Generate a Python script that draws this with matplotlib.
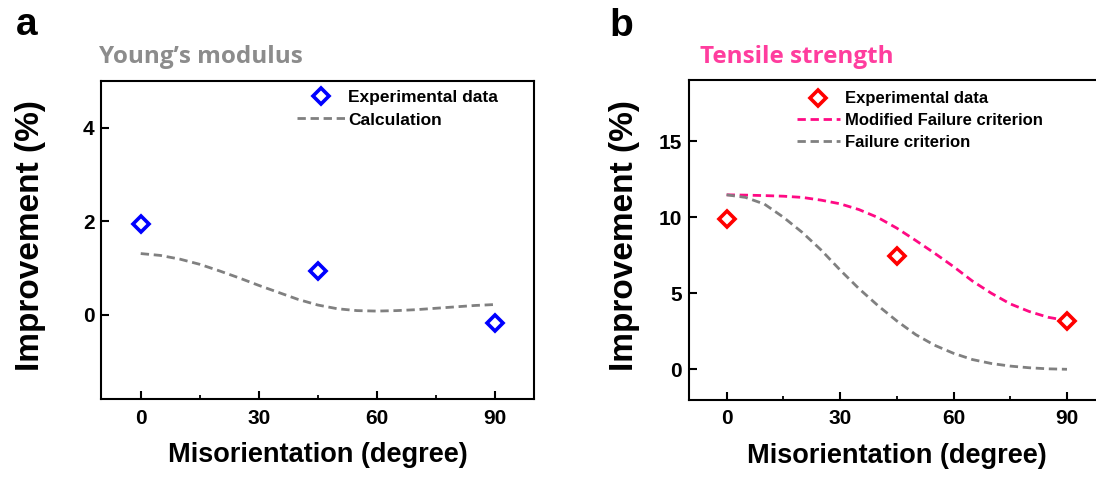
import matplotlib
matplotlib.use("Agg")
import matplotlib.pyplot as plt

# ---- data ----
exp_angle = [0, 45, 90]
young_exp = [1.95, 0.93, -0.18]
tensile_exp = [9.85, 7.43, 3.2]

calc_angle = [0, 5, 10, 15, 20, 25, 30, 35, 40, 45, 50, 55, 60, 65, 70, 75, 80, 85, 90]
young_calc = [1.31, 1.27, 1.19, 1.08, 0.94, 0.79, 0.63, 0.48, 0.33, 0.21, 0.13, 0.09, 0.08,
              0.09, 0.11, 0.14, 0.17, 0.20, 0.22]
modified_fc = [11.47, 11.45, 11.42, 11.38, 11.30, 11.12, 10.88, 10.50, 9.98, 9.28, 8.47, 7.63,
               6.75, 5.80, 5.00, 4.30, 3.80, 3.42, 3.20]
failure_fc = [11.47, 11.30, 10.86, 10.00, 9.00, 7.84, 6.53, 5.30, 4.19, 3.18, 2.28, 1.58,
              1.05, 0.64, 0.38, 0.21, 0.10, 0.03, 0.0]

xticks = [0, 30, 60, 90]
xminor = [15, 45, 75]

BLUE, RED, PINK, GRAY = "#0000ff", "#ff0000", "#ff0a84", "#808080"
TITLE_GRAY, TITLE_PINK = "#8c8c8c", "#ff3d9e"
plt.rcParams.update({"font.family": ["Liberation Sans", "DejaVu Sans"], "font.weight": "bold",
                     "axes.linewidth": 1.5})

fig = plt.figure(figsize=(10.96, 4.8), dpi=100)
W, H = 1096.0, 480.0


def px_axes(l, t, r, b):
    return fig.add_axes([l / W, 1 - b / H, (r - l) / W, (b - t) / H])


def style(ax, ylim, yticks):
    ax.set_xlim(-10, 100)
    ax.set_ylim(*ylim)
    ax.set_xticks(xticks)
    ax.set_xticks(xminor, minor=True)
    ax.set_yticks(yticks)
    ax.tick_params(which="major", direction="in", length=5.5, width=1.5, labelsize=15, pad=7)
    ax.tick_params(which="minor", direction="in", length=3, width=1.3)
    ax.tick_params(axis="y", pad=5)
    for lab in ax.get_xticklabels() + ax.get_yticklabels():
        lab.set_fontweight("bold")
    ax.set_xlabel("Misorientation (degree)", fontsize=19.5, fontweight="bold")
    ax.set_ylabel("Improvement (%)", fontsize=24, fontweight="bold")


dash = (3.0, 1.7)
mk = dict(marker="D", ms=8.3, mew=2.6, mfc="white", ls="none")

# ---- panel a ----
ax1 = px_axes(101.4, 81, 534.0, 399)
ax1.plot(exp_angle, young_exp, color=BLUE, label="Experimental data", zorder=3, **mk)
ax1.plot(calc_angle, young_calc, color=GRAY, lw=2.0, dashes=dash, label="Calculation")
style(ax1, (-1.8, 5.0), [0, 2, 4])
ax1.xaxis.set_label_coords(0.5, -0.135)
ax1.yaxis.set_label_coords(-0.128, 0.515)
ax1.legend(loc="upper left", bbox_to_anchor=(0.452, 0.972), frameon=False, borderpad=0,
           borderaxespad=0, handlelength=2.8, handletextpad=0.15, labelspacing=0.42,
           prop={"size": 12.5, "weight": "bold"})

# ---- panel b (right edge cropped in the original) ----
ax2 = px_axes(688.8, 80.3, 1104.8, 399.7)
ax2.plot(exp_angle, tensile_exp, color=RED, label="Experimental data", zorder=3, **mk)
ax2.plot(calc_angle, modified_fc, color=PINK, lw=2.0, dashes=dash, label="Modified Failure criterion")
ax2.plot(calc_angle, failure_fc, color=GRAY, lw=2.0, dashes=dash, label="Failure criterion")
style(ax2, (-2, 19), [0, 5, 10, 15])
ax2.xaxis.set_label_coords(0.5, -0.135)
ax2.yaxis.set_label_coords(-0.117, 0.514)
ax2.legend(loc="upper left", bbox_to_anchor=(0.259, 0.965), frameon=False, borderpad=0,
           borderaxespad=0, handlelength=2.6, handletextpad=0.3, labelspacing=0.4,
           prop={"size": 12, "weight": "bold"})

# panel letters and coloured titles
fig.text(16 / W, 1 - 35 / H, "a", fontsize=28, fontweight="bold", va="baseline")
fig.text(609 / W, 1 - 36.5 / H, "b", fontsize=28, fontweight="bold", va="baseline")
fig.text(99 / W, 1 - 63.3 / H, "Young\u2019s modulus", fontsize=17.5, fontweight="bold",
         family="Open Sans", color=TITLE_GRAY, va="baseline")
fig.text(700 / W, 1 - 63.3 / H, "Tensile strength", fontsize=17.5, fontweight="bold",
         family="Open Sans", color=TITLE_PINK, va="baseline")

fig.savefig("out.png", dpi=100)
